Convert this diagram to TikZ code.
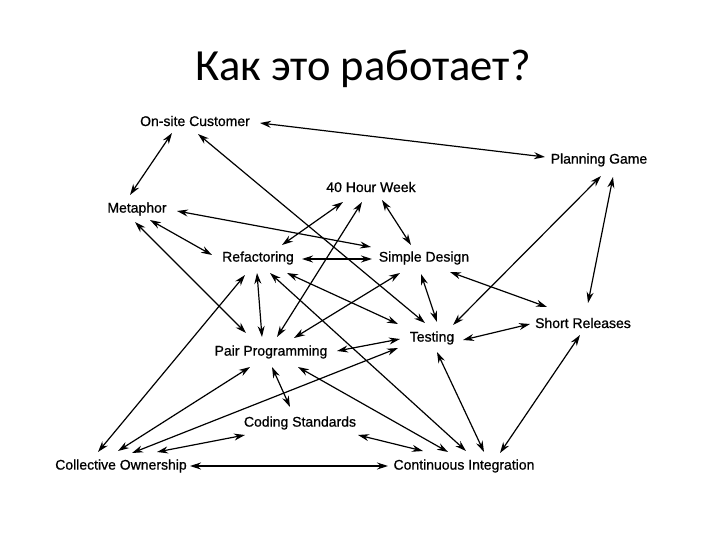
\documentclass[tikz,border=0pt]{standalone}
\usepackage{fontspec}
\setmainfont{Liberation Sans}
\newfontfamily\titlefont{Carlito}
\usetikzlibrary{arrows.meta}
\begin{document}
\begin{tikzpicture}[x=1pt,y=-1pt,
  lbl/.style={inner sep=0pt,font=\fontsize{14}{16}\selectfont\addfontfeature{FakeBold=0.8}},
  link/.style={line width=1.2pt,{Stealth[length=11pt,width=7pt]}-{Stealth[length=11pt,width=7pt]}}]
\useasboundingbox (0,0) rectangle (720,540);
\node[inner sep=0pt,font=\titlefont\fontsize{44.5}{52}\selectfont] (title) at (363,69) {Как это работает?};
\node[lbl] (OSC) at (195,121) {On-site Customer};
\node[lbl] (PG) at (599,160) {Planning Game};
\node[lbl] (W40) at (371,187) {40 Hour Week};
\node[lbl] (Met) at (137,209) {Metaphor};
\node[lbl] (Ref) at (258,258) {Refactoring};
\node[lbl] (SD) at (424,258) {Simple Design};
\node[lbl] (SR) at (583,323) {Short Releases};
\node[lbl] (Test) at (432,338) {Testing};
\node[lbl] (PP) at (271,352) {Pair Programming};
\node[lbl] (CS) at (300,423) {Coding Standards};
\node[lbl] (CO) at (121,466) {Collective Ownership};
\node[lbl] (CI) at (464,466) {Continuous Integration};
\newcommand{\lnk}[6]{\draw[link] ([shift={(#2,#3)}]#1.center) -- ([shift={(#5,#6)}]#4.center);}
\lnk{OSC}{65}{2}{PG}{-54}{-3}
\lnk{OSC}{-23}{12}{Met}{-7}{-14}
\lnk{OSC}{3}{13}{Test}{-7}{-15}
\lnk{Met}{40}{2}{SD}{-53}{-11}
\lnk{Met}{13}{11}{Ref}{-46}{-3}
\lnk{Met}{-2}{13}{PP}{-25}{-19}
\lnk{W40}{-28}{15}{Ref}{24}{-13}
\lnk{W40}{-9}{15}{PP}{6}{-15}
\lnk{W40}{11}{13}{SD}{-13}{-13}
\lnk{Ref}{44}{1}{SD}{-52}{1}
\lnk{SD}{-24}{15}{PP}{23}{-14}
\lnk{SD}{-3}{16}{Test}{5}{-16}
\lnk{SD}{26}{14}{SR}{-36}{-16}
\lnk{PG}{2}{16}{Test}{21}{-13}
\lnk{PG}{14}{17}{SR}{5}{-20}
\lnk{Test}{31}{2}{SR}{-53}{1}
\lnk{SR}{-3}{12}{CI}{36}{-13}
\lnk{Test}{5}{14}{CI}{20}{-14}
\lnk{Ref}{-1}{15}{PP}{-9}{-15}
\lnk{Ref}{-13}{17}{CO}{-23}{-14}
\lnk{Ref}{29}{15}{Test}{-34}{-14}
\lnk{Ref}{12}{15}{CI}{2}{-15}
\lnk{Test}{-32}{1}{PP}{66}{-1}
\lnk{CO}{11}{-13}{Test}{-34}{10}
\lnk{PP}{27}{15}{CI}{-16}{-14}
\lnk{CS}{58}{12}{CI}{-41}{-15}
\lnk{CO}{-3}{-15}{PP}{-21}{15}
\lnk{CO}{36}{-14}{CS}{-55}{12}
\lnk{PP}{1}{15}{CS}{-10}{-16}
\lnk{CO}{69}{0}{CI}{-76}{0}
\end{tikzpicture}
\end{document}
